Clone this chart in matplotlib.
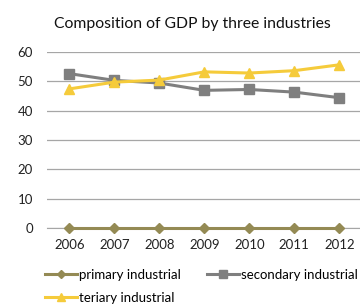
import numpy as np
import matplotlib.pyplot as plt

plt.rcParams['font.family'] = ['Lato', 'DejaVu Sans']

years = ['2006', '2007', '2008', '2009', '2010', '2011', '2012']
primary = [0, 0, 0, 0, 0, 0, 0]
secondary = [52.6, 50.3, 49.4, 46.9, 47.2, 46.3, 44.4]
tertiary = [47.4, 49.7, 50.4, 53.2, 52.8, 53.6, 55.6]

x = np.arange(len(years))

fig = plt.figure(figsize=(3.6, 3.07), dpi=100)
ax = fig.add_axes([0.13, 0.257, 0.875, 0.574])

l1, = ax.plot(x, primary, color='#948A54', lw=2.2, marker='D', ms=5, label='primary industrial', clip_on=False, zorder=3)
l2, = ax.plot(x, secondary, color='#7F7F7F', lw=2.2, marker='s', ms=6.5, label='secondary industrial', clip_on=False, zorder=3)
l3, = ax.plot(x, tertiary, color='#F5CB3B', lw=2.2, marker='^', ms=7, label='teriary industrial', clip_on=False, zorder=4)

ax.set_xlim(-0.5, 6.5)
ax.set_ylim(0, 60)
ax.set_yticks(range(0, 61, 10))
ax.set_xticks(x)
ax.set_xticklabels(years)
ax.grid(axis='y', color='#A6A6A6', lw=0.9)
ax.set_axisbelow(True)
for s in ['top', 'right', 'left']:
    ax.spines[s].set_visible(False)
ax.spines['bottom'].set_color('#A6A6A6')
ax.tick_params(length=0, labelsize=9.5, colors='#222222', pad=8)
ax.tick_params(axis='y', pad=10)

fig.text(0.535, 0.922, 'Composition of GDP by three industries', ha='center', va='center', fontsize=11.3, color='#111111')

# column-wise fill: order so row 1 = primary, secondary
fig.legend([l1, l3, l2], ['primary industrial', 'teriary industrial', 'secondary industrial'],
           loc='upper left', bbox_to_anchor=(0.125, 0.125), ncol=2, frameon=False,
           fontsize=9.5, handlelength=2.4, handletextpad=0.15, columnspacing=2.0,
           labelspacing=0.85, borderaxespad=0, borderpad=0, markerscale=0.85)

plt.savefig('out.png', dpi=100)
